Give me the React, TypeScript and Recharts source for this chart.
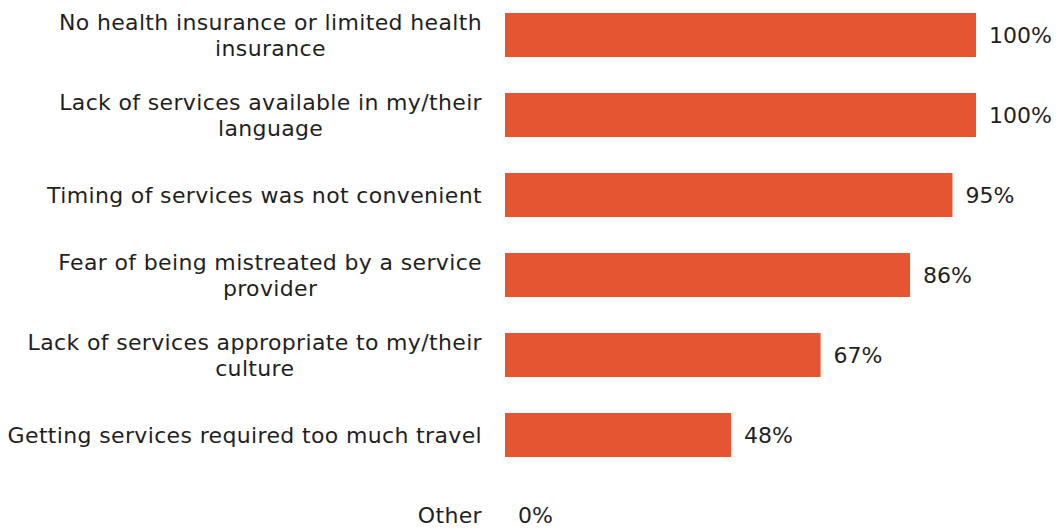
import { BarChart, Bar, XAxis, YAxis, LabelList } from "recharts";

const categories = [
  "No health insurance or limited health\ninsurance",
  "Lack of services available in my/their\nlanguage",
  "Timing of services was not convenient",
  "Fear of being mistreated by a service\nprovider",
  "Lack of services appropriate to my/their\nculture",
  "Getting services required too much travel",
  "Other",
];
const values = [100, 100, 95, 86, 67, 48, 0];

const data = categories.map((name, i) => ({ name, value: values[i] }));

const BAR_COLOR = "#E65532";
const TEXT_COLOR = "#1f1f1f";
const FONT = "DejaVu Sans, Verdana, sans-serif";
const FONT_SIZE = 22;
const LETTER_SPACING = 0.35;
const LABEL_RIGHT = 482;

let ctx: CanvasRenderingContext2D | null = null;
const measure = (s: string) => {
  if (!ctx) ctx = document.createElement("canvas").getContext("2d");
  if (!ctx) return s.length * FONT_SIZE * 0.6;
  ctx.font = `${FONT_SIZE}px "DejaVu Sans"`;
  return ctx.measureText(s).width + s.length * LETTER_SPACING;
};

const CategoryTick = ({ y, payload }: any) => {
  const lines = String(payload.value).split("\n");
  const lineH = 26;
  const startY = y - ((lines.length - 1) * lineH) / 2;
  const blockW = Math.max(...lines.map(measure));
  const cx = LABEL_RIGHT - blockW / 2;
  return (
    <text
      x={cx}
      y={startY}
      textAnchor="middle"
      fill={TEXT_COLOR}
      fontFamily={FONT}
      fontSize={FONT_SIZE}
      letterSpacing={LETTER_SPACING}
    >
      {lines.map((l, i) => (
        <tspan key={i} x={cx} y={startY + i * lineH} dy="0.36em">
          {l}
        </tspan>
      ))}
    </text>
  );
};

export default function App() {
  return (
    <div style={{ position: "absolute", left: 0, top: -5, background: "#fff" }}>
      <BarChart
        width={1058}
        height={560}
        data={data}
        layout="vertical"
        margin={{ top: 0, right: 82, left: 0, bottom: 0 }}
      >
        <XAxis type="number" domain={[0, 100]} hide />
        <YAxis
          type="category"
          dataKey="name"
          width={505}
          tickLine={false}
          axisLine={false}
          tick={<CategoryTick />}
          interval={0}
        />
        <Bar
          dataKey="value"
          fill={BAR_COLOR}
          barSize={44}
          minPointSize={0.01}
          isAnimationActive={false}
        >
          <LabelList
            dataKey="value"
            position="right"
            offset={13}
            formatter={(v: any) => `${v}%`}
            fill={TEXT_COLOR}
            fontFamily={FONT}
            fontSize={FONT_SIZE}
          />
        </Bar>
      </BarChart>
    </div>
  );
}
